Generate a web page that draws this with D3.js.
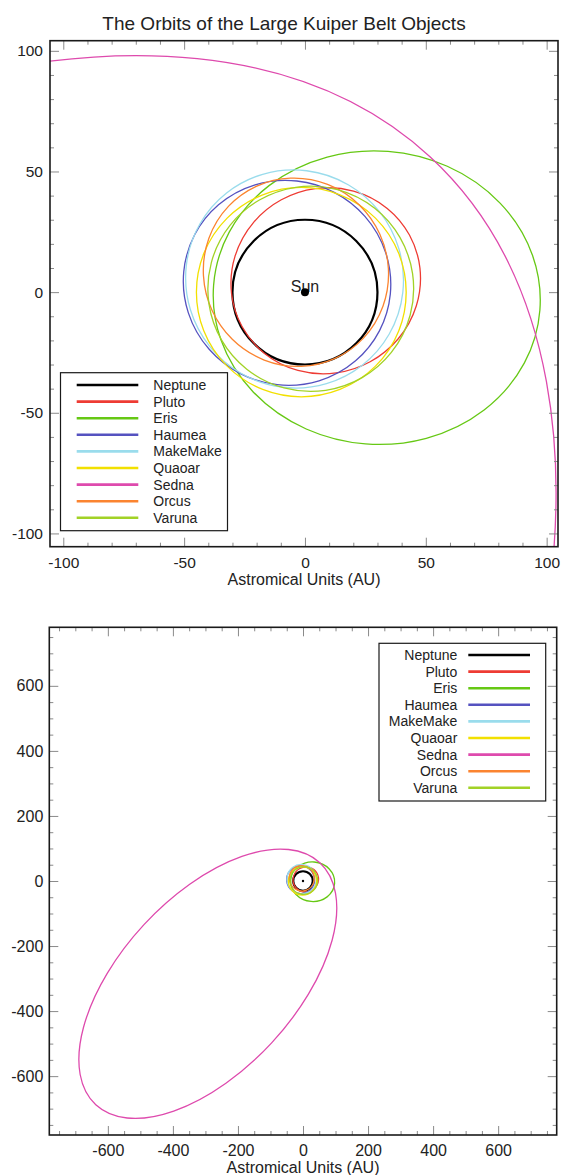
<!DOCTYPE html>
<html><head><meta charset="utf-8">
<script src="https://cdn.jsdelivr.net/npm/d3@7"></script>
<style>
body{margin:0;background:#fff}
text{font-family:"Liberation Sans",Arial,Helvetica,sans-serif;fill:#222}
</style>
</head><body>
<svg id="chart" width="561" height="1175"></svg>
<script>
// ---- data ----
const names = ["Neptune","Pluto","Eris","Haumea","MakeMake","Quaoar","Sedna","Orcus","Varuna"];
const colors = ["#000000","#ee3b33","#66c814","#5552c0","#9adcec","#f2e000","#de4aad","#fb8430","#a2d226"];
// semi-major axis (AU)
const semiMajor = [30.0, 39.5, 67.7, 43.1, 45.4, 43.4, 507, 39.2, 42.6];
// eccentricity
const eccentricity = [0.0, 0.248, 0.44, 0.194, 0.153, 0.035, 0.8495, 0.231, 0.065];
// direction (deg, counter-clockwise from +x) from the Sun toward the aphelion / orbit centre
const aphelionAngle = [0, 28.7, -4.4, 152.5, 128.3, 180, 227.2, 114.4, 30];
const lineWidths = [2.2, 1.3, 1.3, 1.3, 1.3, 1.3, 1.3, 1.3, 1.3];

const topMajorTicks = [-100, -50, 0, 50, 100];
const topMinorTicks = [-100,-90,-80,-70,-60,-50,-40,-30,-20,-10,0,10,20,30,40,50,60,70,80,90,100];
const botMajorTicks = [-600, -400, -200, 0, 200, 400, 600];
const botMinorTicks = [-750,-700,-650,-600,-550,-500,-450,-400,-350,-300,-250,-200,-150,-100,-50,0,50,100,150,200,250,300,350,400,450,500,550,600,650,700,750];

const titleText = "The Orbits of the Large Kuiper Belt Objects";
const xLabelText = "Astromical Units (AU)";

const svg = d3.select("#chart");

svg.append("text").attr("x", 284).attr("y", 30).attr("text-anchor","middle")
  .style("font-size","19px").text(titleText);

function panel(cfg, idx){
  const x = d3.scaleLinear().domain(cfg.xDomain).range(cfg.xRange);
  const y = d3.scaleLinear().domain(cfg.yDomain).range(cfg.yRange);
  const g = svg.append("g");
  const [x0,x1] = cfg.xRange, [y1,y0] = cfg.yRange; // y0 top, y1 bottom

  const clipId = "clip"+idx;
  svg.append("clipPath").attr("id", clipId).append("rect")
    .attr("x", x0).attr("y", y0).attr("width", x1-x0).attr("height", y1-y0);

  // orbits
  const kx = x(1)-x(0), ky = y(1)-y(0);
  const og = g.append("g").attr("clip-path", `url(#${clipId})`)
    .append("g").attr("transform", `translate(${x(0)},${y(0)}) scale(${kx},${ky})`);
  names.forEach((n,i)=>{
    const a = semiMajor[i], e = eccentricity[i];
    const b = a*Math.sqrt(1-e*e), c = a*e;
    og.append("ellipse")
      .attr("cx", 0).attr("cy", 0).attr("rx", a).attr("ry", b)
      .attr("transform", `rotate(${aphelionAngle[i]}) translate(${c},0)`)
      .attr("fill","none").attr("stroke", colors[i])
      .attr("stroke-width", lineWidths[i]).attr("vector-effect","non-scaling-stroke");
  });

  // Sun
  if (cfg.sunLabel) {
    g.append("text").attr("x", x(0)).attr("y", y(0)).attr("text-anchor","middle")
      .style("font-size","16px").text("Sun");
  }
  g.append("circle").attr("cx", x(0)).attr("cy", y(0)).attr("r", cfg.sunR).attr("fill","#000");

  // ticks
  const minorX = cfg.minor.filter(v=>!cfg.major.includes(v));
  const fmt = d => String(d);
  const styleAxis = sel => { sel.select(".domain").remove(); sel.selectAll(".tick line").attr("stroke","#8a8a8a").attr("stroke-width",1); };
  const addAxis = (axisFn, scale, ticks, size, pos, labels, pad) => {
    const ax = axisFn(scale).tickValues(ticks).tickSize(-size).tickPadding(pad||0)
      .tickFormat(labels ? fmt : "");
    const s = g.append("g").attr("transform", pos).call(ax);
    styleAxis(s);
    s.selectAll("text").style("font-size", cfg.fs+"px").attr("fill","#222").style("font-family",'"Liberation Sans",Arial,sans-serif');
    return s;
  };
  // bottom
  addAxis(d3.axisBottom, x, cfg.major, 9, `translate(0,${y1})`, true, cfg.xPad);
  addAxis(d3.axisBottom, x, minorX, 4, `translate(0,${y1})`, false);
  // top
  addAxis(d3.axisTop, x, cfg.major, 9, `translate(0,${y0})`, false);
  addAxis(d3.axisTop, x, minorX, 4, `translate(0,${y0})`, false);
  // left
  addAxis(d3.axisLeft, y, cfg.major, 9, `translate(${x0},0)`, true, cfg.yPad);
  addAxis(d3.axisLeft, y, minorX, 4, `translate(${x0},0)`, false);
  // right
  addAxis(d3.axisRight, y, cfg.major, 9, `translate(${x1},0)`, false);
  addAxis(d3.axisRight, y, minorX, 4, `translate(${x1},0)`, false);

  // frame
  g.append("rect").attr("x", x0).attr("y", y0).attr("width", x1-x0).attr("height", y1-y0)
    .attr("fill","none").attr("stroke","#1a1a1a").attr("stroke-width",1.6);

  // x label
  g.append("text").attr("x", (x0+x1)/2).attr("y", cfg.xLabelY).attr("text-anchor","middle")
    .style("font-size","16px").text(xLabelText);

  // legend
  const L = cfg.legend;
  const lg = g.append("g");
  lg.append("rect").attr("x", L.x).attr("y", L.y).attr("width", L.w).attr("height", L.h)
    .attr("fill","#fff").attr("stroke","#1a1a1a").attr("stroke-width",1.2);
  names.forEach((n,i)=>{
    const ry = L.row0 + i*L.step;
    lg.append("line").attr("x1", L.lx1).attr("x2", L.lx2).attr("y1", ry).attr("y2", ry)
      .attr("stroke", colors[i]).attr("stroke-width", 2.6);
    lg.append("text").attr("x", L.tx).attr("y", ry).attr("dy","0.35em")
      .attr("text-anchor", L.anchor).style("font-size","14px").text(n);
  });
}

panel({
  xDomain:[-105.5,104.7], xRange:[50,558],
  yDomain:[-105.5,104.2], yRange:[546.7,40.7],
  major: topMajorTicks, minor: topMinorTicks,
  fs:15.5, xPad:10, yPad:7, sunR:4, sunLabel:true, xLabelY:585,
  legend:{x:60.5,y:372.7,w:167,h:158,row0:385,step:16.6,lx1:76.7,lx2:138.3,tx:153.3,anchor:"start"}
}, 0);

panel({
  xDomain:[-780,780], xRange:[49.3,556.7],
  yDomain:[-781,780], yRange:[1135,627.3],
  major: botMajorTicks, minor: botMinorTicks,
  fs:16, xPad:10, yPad:6, sunR:1.2, sunLabel:false, xLabelY:1173,
  legend:{x:379,y:643.3,w:166.7,h:157.7,row0:655,step:16.6,lx1:468.3,lx2:530,tx:457.3,anchor:"end"}
}, 1);
</script>
</body></html>
